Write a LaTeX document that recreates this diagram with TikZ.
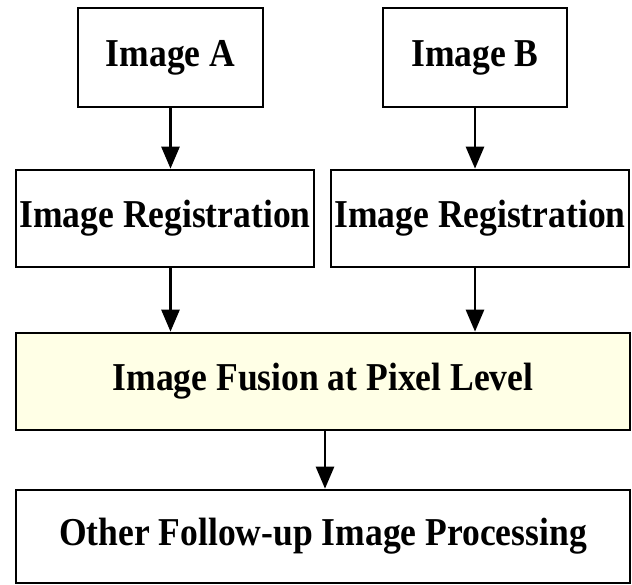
\documentclass[tikz,border=0pt]{standalone}
\usepackage{fontspec}
\setmainfont{Liberation Serif}[FakeStretch=0.9]
\usepackage{tikz}
\usetikzlibrary{arrows.meta, positioning}

\definecolor{fusecream}{RGB}{255,255,230}

\begin{document}
\begin{tikzpicture}[
  x=1pt, y=-1pt,
  box/.style={draw, line width=2.7pt, minimum height=97pt, inner sep=0pt,
    font=\fontsize{39.5}{44}\selectfont\bfseries, align=center},
  arrow/.style={-{Triangle[length=22pt, width=18pt]}, line width=2.7pt}
]
  \useasboundingbox (0,0) rectangle (632,585);

  \node[box, minimum width=185pt, minimum height=99pt] (imgA) at (170.5,57.5) {Image A};
  \node[box, minimum width=184pt, minimum height=99pt] (imgB) at (475,57.5) {Image B};
  \node[box, minimum width=298pt] (regA) at (165,218.5) {Image Registration};
  \node[box, minimum width=298pt] (regB) at (480,218.5) {Image Registration};
  \node[box, fill=fusecream, minimum width=614pt] (fusion) at (323,381.5) {Image Fusion at Pixel Level};
  \node[box, minimum width=614pt, minimum height=93pt] (post) at (323,536.5) {Other Follow-up Image Processing};

  \draw[arrow] (imgA) -- (imgA |- regA.north);
  \draw[arrow] (imgB) -- (imgB |- regB.north);
  \draw[arrow] (imgA |- regA.south) -- (imgA |- fusion.north);
  \draw[arrow] (imgB |- regB.south) -- (imgB |- fusion.north);
  \draw[arrow] ([xshift=2pt]fusion.south) -- ([xshift=2pt]fusion.south |- post.north);
\end{tikzpicture}
\end{document}
